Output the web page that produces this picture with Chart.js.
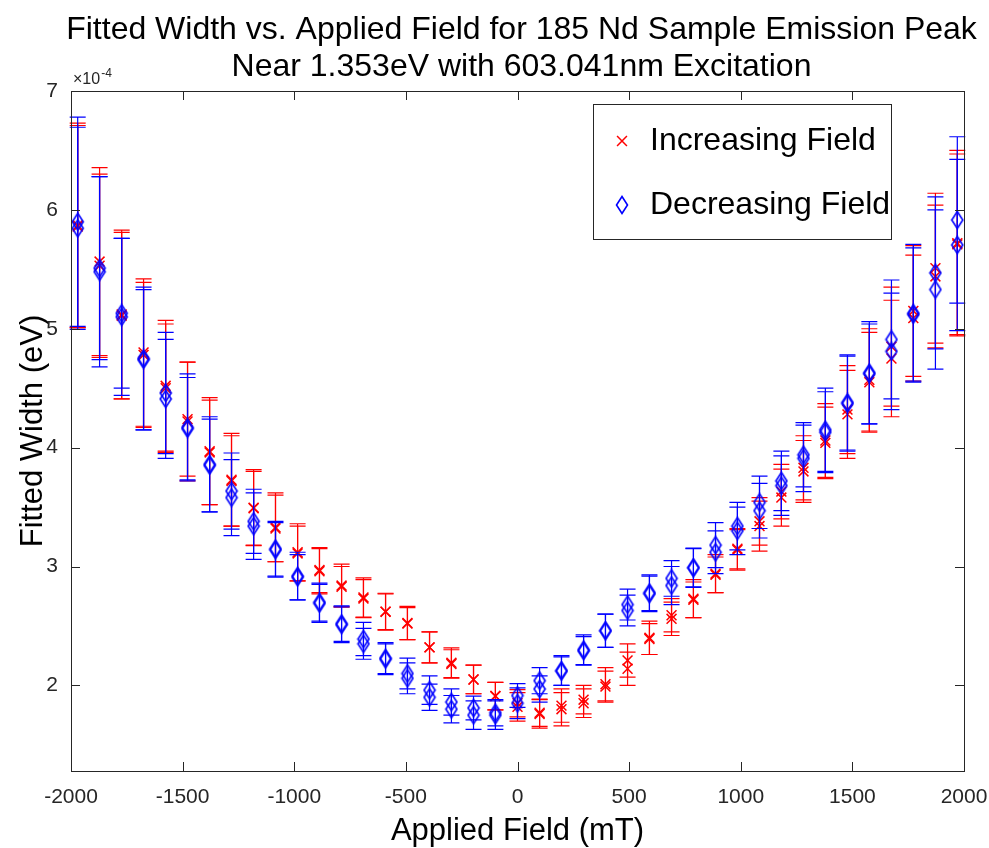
<!DOCTYPE html>
<html>
<head>
<meta charset="utf-8">
<script src="https://cdn.jsdelivr.net/npm/chart.js@4.4.1/dist/chart.umd.min.js"></script>
<style>
html, body { margin: 0; padding: 0; background: #fff; }
#wrap { width: 989px; height: 848px; }
</style>
</head>
<body>
<div id="wrap"><canvas id="chart" width="989" height="848"></canvas></div>
<script>
// Applied field (mT) at each step of the sweep
const fields = [-1970, -1872, -1773, -1675, -1576, -1478, -1379, -1281, -1182, -1084,
                -985, -887, -788, -690, -591, -493, -394, -296, -197, -99,
                0,
                99, 197, 296, 394, 493, 591, 690, 788, 887, 985,
                1084, 1182, 1281, 1379, 1478, 1576, 1675, 1773, 1872, 1970];

// Fitted widths, in units of 1e-4 eV (two runs per sweep direction)
const incA = [5.87, 5.565, 5.12, 4.80, 4.52, 4.24, 3.97, 3.73, 3.495, 3.33,
              3.12, 2.97, 2.84, 2.74, 2.62, 2.525, 2.32, 2.19, 2.05, 1.91,
              1.85,
              1.77, 1.83, 1.88, 2.01, 2.21, 2.40, 2.59, 2.73, 2.94, 3.15,
              3.38, 3.63, 3.83, 4.06, 4.32, 4.57, 4.85, 5.15, 5.51, 5.72];
const incB = [5.86, 5.53, 5.11, 4.78, 4.50, 4.22, 3.96, 3.72, 3.49, 3.32,
              3.11, 2.96, 2.83, 2.73, 2.62, 2.52, 2.32, 2.18, 2.05, 1.91,
              1.82,
              1.76, 1.80, 1.85, 1.99, 2.14, 2.39, 2.56, 2.72, 2.93, 3.14,
              3.34, 3.58, 3.80, 4.04, 4.28, 4.55, 4.75, 5.09, 5.44, 5.71];
const decA = [5.90, 5.51, 5.13, 4.75, 4.46, 4.17, 3.86, 3.635, 3.38, 3.15,
              2.92, 2.70, 2.52, 2.39, 2.23, 2.10, 1.96, 1.86, 1.81, 1.77,
              1.915,
              2.04, 2.125, 2.30, 2.46, 2.68, 2.78, 2.90, 2.99, 3.18, 3.34,
              3.54, 3.72, 3.94, 4.15, 4.38, 4.63, 4.91, 5.13, 5.47, 5.915];
const decB = [5.845, 5.48, 5.10, 4.74, 4.41, 4.16, 3.85, 3.58, 3.34, 3.14,
              2.91, 2.69, 2.51, 2.35, 2.22, 2.06, 1.90, 1.80, 1.75, 1.75,
              1.85,
              1.97, 2.12, 2.29, 2.46, 2.63, 2.77, 2.84, 2.99, 3.12, 3.30,
              3.47, 3.68, 3.91, 4.13, 4.37, 4.62, 4.81, 5.12, 5.33, 5.705];

// Error bar half-heights, same units
const incErrA = [0.86, 0.79, 0.71, 0.62, 0.55, 0.48, 0.45, 0.39, 0.32, 0.29,
                 0.24, 0.19, 0.18, 0.165, 0.155, 0.14, 0.13, 0.125, 0.12, 0.115,
                 0.115,
                 0.115, 0.14, 0.12, 0.14, 0.14, 0.14, 0.14, 0.16, 0.16, 0.17,
                 0.20, 0.23, 0.27, 0.31, 0.37, 0.43, 0.50, 0.55, 0.63, 0.78];
const incErrB = [0.85, 0.77, 0.70, 0.61, 0.54, 0.50, 0.44, 0.38, 0.31, 0.28,
                 0.23, 0.19, 0.17, 0.16, 0.15, 0.135, 0.13, 0.12, 0.12, 0.115,
                 0.12,
                 0.12, 0.14, 0.12, 0.13, 0.14, 0.13, 0.14, 0.15, 0.15, 0.17,
                 0.21, 0.24, 0.26, 0.30, 0.37, 0.42, 0.49, 0.53, 0.60, 0.76];
const decErrA = [0.88, 0.77, 0.63, 0.60, 0.51, 0.45, 0.40, 0.32, 0.27, 0.23,
                 0.20, 0.16, 0.15, 0.14, 0.13, 0.13, 0.12, 0.11, 0.10, 0.11,
                 0.10,
                 0.11, 0.125, 0.125, 0.14, 0.13, 0.15, 0.15, 0.165, 0.19, 0.20,
                 0.22, 0.25, 0.27, 0.35, 0.40, 0.43, 0.50, 0.58, 0.64, 0.70];
const decErrB = [0.85, 0.80, 0.66, 0.59, 0.50, 0.43, 0.39, 0.32, 0.28, 0.23,
                 0.19, 0.16, 0.15, 0.13, 0.13, 0.13, 0.11, 0.115, 0.12, 0.12,
                 0.13,
                 0.11, 0.12, 0.12, 0.14, 0.13, 0.15, 0.16, 0.16, 0.18, 0.20,
                 0.23, 0.25, 0.28, 0.34, 0.40, 0.42, 0.49, 0.56, 0.67, 0.72];

const xTicks = [-2000, -1500, -1000, -500, 0, 500, 1000, 1500, 2000];
const yTicks = [2, 3, 4, 5, 6, 7];

const titleLines = ['Fitted Width vs. Applied Field for 185 Nd Sample Emission Peak',
                    'Near 1.353eV with 603.041nm Excitation'];
const seriesNames = ['Increasing Field', 'Decreasing Field'];

const FONT = '"Liberation Sans", Arial, Helvetica, sans-serif';
const RED = '#ff0000';
const BLUE = '#0000ff';
const AXIS = '#262626';

// MATLAB style diamond is taller than wide, so build it as a small canvas
function diamondMarker() {
    const c = document.createElement('canvas');
    c.width = 14; c.height = 20;
    const g = c.getContext('2d');
    g.strokeStyle = BLUE;
    g.lineWidth = 1.6;
    g.beginPath();
    g.moveTo(7, 1.5); g.lineTo(12.5, 10); g.lineTo(7, 18.5); g.lineTo(1.5, 10);
    g.closePath();
    g.stroke();
    return c;
}
const diamond = diamondMarker();

const pts = (ys) => fields.map((f, i) => ({ x: f, y: ys[i] }));

function incSet(ys, errs) {
    return {
        label: seriesNames[0], data: pts(ys), errors: errs, barColor: RED,
        pointStyle: 'crossRot', pointRadius: 7, borderColor: RED, borderWidth: 1.5,
        backgroundColor: RED, showLine: false
    };
}
function decSet(ys, errs) {
    return {
        label: seriesNames[1], data: pts(ys), errors: errs, barColor: BLUE,
        pointStyle: diamond, pointRadius: 8, borderColor: BLUE, borderWidth: 1.5,
        backgroundColor: BLUE, showLine: false
    };
}

// error bars drawn right before each dataset's markers so stacking matches
const errorBars = {
    id: 'errorBars',
    beforeDatasetDraw(chart, args) {
        const ds = chart.data.datasets[args.index];
        if (!ds.errors) return;
        const { ctx, scales: { x, y } } = chart;
        ctx.save();
        ctx.strokeStyle = ds.barColor;
        ctx.lineWidth = 1.2;
        ds.data.forEach((p, i) => {
            const e = ds.errors[i];
            const px = x.getPixelForValue(p.x);
            const top = y.getPixelForValue(p.y + e);
            const bot = y.getPixelForValue(p.y - e);
            ctx.beginPath();
            ctx.moveTo(px, top); ctx.lineTo(px, bot);
            ctx.moveTo(px - 8, top); ctx.lineTo(px + 8, top);
            ctx.moveTo(px - 8, bot); ctx.lineTo(px + 8, bot);
            ctx.stroke();
        });
        ctx.restore();
    }
};

// axes box, inward ticks, exponent, title and legend
const decorations = {
    id: 'decorations',
    afterDraw(chart) {
        const { ctx, chartArea: a, scales: { x, y } } = chart;
        ctx.save();

        // box
        ctx.strokeStyle = AXIS;
        ctx.lineWidth = 1;
        ctx.strokeRect(Math.round(a.left) + 0.5, Math.round(a.top) + 0.5,
                       Math.round(a.right - a.left), Math.round(a.bottom - a.top));

        // inward tick marks on all four sides
        ctx.beginPath();
        x.ticks.forEach(t => {
            const px = Math.round(x.getPixelForValue(t.value)) + 0.5;
            ctx.moveTo(px, a.bottom); ctx.lineTo(px, a.bottom - 9);
            ctx.moveTo(px, a.top); ctx.lineTo(px, a.top + 9);
        });
        y.ticks.forEach(t => {
            const py = Math.round(y.getPixelForValue(t.value)) + 0.5;
            ctx.moveTo(a.left, py); ctx.lineTo(a.left + 9, py);
            ctx.moveTo(a.right, py); ctx.lineTo(a.right - 9, py);
        });
        ctx.stroke();

        // exponent label
        ctx.fillStyle = AXIS;
        ctx.textBaseline = 'alphabetic';
        ctx.textAlign = 'left';
        ctx.font = '16px ' + FONT;
        ctx.fillText('\u00d710', a.left + 2, a.top - 7);
        const w = ctx.measureText('\u00d710').width;
        ctx.font = '12px ' + FONT;
        ctx.fillText('-4', a.left + 2 + w + 1, a.top - 14);

        // title
        ctx.fillStyle = '#000';
        ctx.textAlign = 'center';
        ctx.textBaseline = 'middle';
        ctx.font = '32px ' + FONT;
        const cx = (a.left + a.right) / 2 + 4;
        ctx.fillText(titleLines[0], cx, 30);
        ctx.fillText(titleLines[1], cx, 67);

        // legend
        const lx = 593.5, ly = 104.5, lw = 298, lh = 135;
        ctx.fillStyle = '#fff';
        ctx.fillRect(lx, ly, lw, lh);
        ctx.strokeStyle = AXIS;
        ctx.strokeRect(lx, ly, lw, lh);
        const entries = [chart.data.datasets.find(d => d.label === seriesNames[0]),
                         chart.data.datasets.find(d => d.label === seriesNames[1])];
        entries.forEach((ds, i) => {
            const my = 141 + i * 64;
            ctx.lineWidth = ds.borderWidth;
            ctx.strokeStyle = ds.borderColor;
            Chart.helpers.drawPoint(ctx, {
                pointStyle: ds.pointStyle, radius: ds.pointRadius,
                borderWidth: ds.borderWidth, rotation: 0
            }, 622, my);
            ctx.fillStyle = '#000';
            ctx.textAlign = 'left';
            ctx.textBaseline = 'middle';
            ctx.font = '32px ' + FONT;
            ctx.fillText(ds.label, 650, my);
        });
        ctx.restore();
    }
};

const tickFont = { family: FONT, size: 21 };
const titleFont = { family: FONT, size: 31 };

new Chart(document.getElementById('chart'), {
    type: 'scatter',
    data: {
        // decreasing runs first so Chart.js paints them on top
        datasets: [decSet(decA, decErrA), decSet(decB, decErrB),
                   incSet(incA, incErrA), incSet(incB, incErrB)]
    },
    options: {
        responsive: false,
        animation: false,
        devicePixelRatio: 1,
        layout: { padding: { top: 91, right: 25, left: 0, bottom: 0 } },
        plugins: { legend: { display: false }, tooltip: { enabled: false } },
        scales: {
            x: {
                type: 'linear', min: -2000, max: 2000,
                afterBuildTicks: s => { s.ticks = xTicks.map(v => ({ value: v })); },
                afterFit: s => { s.height = 77; s.paddingLeft = 0; s.paddingRight = 0; },
                grid: { display: false, drawTicks: false },
                border: { display: false },
                ticks: { font: tickFont, color: AXIS, padding: 14, maxRotation: 0,
                         callback: v => String(v) },
                title: { display: true, text: 'Applied Field (mT)', font: titleFont,
                         color: '#000', padding: { top: 0, bottom: -2 } }
            },
            y: {
                type: 'linear', min: 1.28, max: 7,
                afterBuildTicks: s => { s.ticks = yTicks.map(v => ({ value: v })); },
                afterFit: s => { s.width = 71; s.paddingTop = 0; s.paddingBottom = 0; },
                grid: { display: false, drawTicks: false },
                border: { display: false },
                ticks: { font: tickFont, color: AXIS, padding: 13,
                         callback: v => String(v) },
                title: { display: true, text: 'Fitted Width (eV)', font: titleFont,
                         color: '#000', padding: { top: 15, bottom: 0 } }
            }
        }
    },
    plugins: [errorBars, decorations]
});
</script>
</body>
</html>
